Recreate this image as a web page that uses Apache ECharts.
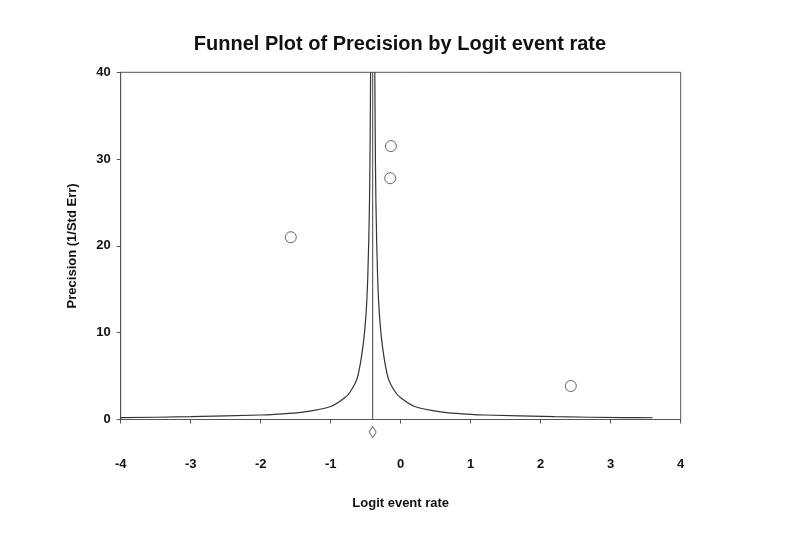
<!DOCTYPE html>
<html>
<head>
<meta charset="utf-8">
<script src="https://cdn.jsdelivr.net/npm/echarts@6/dist/echarts.min.js"></script>
<style>html,body{margin:0;padding:0;background:#fff}#c{width:800px;height:536px}</style>
</head>
<body>
<div id="c"></div>
<script>
// Study points: logit event rate and precision (1/SE)
var studyX = [-1.57, -0.14, -0.15, 2.43];
var studyPrecision = [21.0, 31.5, 27.8, 3.86];
// Combined (mean) effect
var meanEffect = -0.40;
var diamondY = -1.45;
// Funnel limits: distance from mean vs precision
var funnelOffset = [0.030, 0.036, 0.046, 0.070, 0.095, 0.14, 0.22, 0.32, 0.40, 0.60, 1.00, 1.40, 1.60, 2.60, 3.60, 4.00];
var funnelPrecision = [40, 33, 25, 16.5, 12.2, 8.4, 4.8, 3.2, 2.5, 1.5, 0.85, 0.6, 0.52, 0.32, 0.22, 0.2];
var xTicks = [-4, -3, -2, -1, 0, 1, 2, 3, 4];
var yTicks = [0, 10, 20, 30, 40];

var leftCurve = funnelOffset.map(function (o, i) { return [meanEffect - o, funnelPrecision[i]]; });
var rightCurve = funnelOffset.map(function (o, i) { return [meanEffect + o, funnelPrecision[i]]; });

var chart = echarts.init(document.getElementById('c'));
var font = 'Liberation Sans, Arial, sans-serif';
chart.setOption({
  animation: false,
  backgroundColor: '#fff',
  title: {
    text: 'Funnel Plot of Precision by Logit event rate',
    left: 'center', top: 29,
    textStyle: { fontFamily: font, fontSize: 20, fontWeight: 'bold', color: '#111' }
  },
  grid: { left: 120.7, right: 119.3, top: 72.3, bottom: 116.5, show: true, borderColor: '#555', borderWidth: 1, backgroundColor: 'transparent' },
  xAxis: {
    type: 'value', min: xTicks[0], max: xTicks[xTicks.length - 1], interval: 1,
    name: 'Logit event rate', nameLocation: 'middle', nameGap: 77,
    nameTextStyle: { fontFamily: font, fontSize: 13, fontWeight: 'bold', color: '#111' },
    axisLine: { show: true, onZero: false, lineStyle: { color: '#555' } },
    axisTick: { show: true, length: 4, lineStyle: { color: '#555' } },
    axisLabel: { margin: 38, fontFamily: font, fontSize: 13, fontWeight: 'bold', color: '#111' },
    splitLine: { show: false }
  },
  yAxis: {
    type: 'value', min: yTicks[0], max: yTicks[yTicks.length - 1], interval: 10,
    name: 'Precision (1/Std Err)', nameLocation: 'middle', nameGap: 42,
    nameTextStyle: { fontFamily: font, fontSize: 13, fontWeight: 'bold', color: '#111' },
    axisLine: { show: true, onZero: false, lineStyle: { color: '#555' } },
    axisTick: { show: true, length: 4, lineStyle: { color: '#555' } },
    axisLabel: { margin: 10, fontFamily: font, fontSize: 13, fontWeight: 'bold', color: '#111' },
    splitLine: { show: false }
  },
  series: [
    { type: 'line', data: leftCurve, showSymbol: false, smooth: 0.35, clip: true,
      lineStyle: { color: '#333', width: 1.2 }, silent: true },
    { type: 'line', data: rightCurve, showSymbol: false, smooth: 0.35, clip: true,
      lineStyle: { color: '#333', width: 1.2 }, silent: true },
    { type: 'line', data: [[meanEffect, yTicks[0]], [meanEffect, yTicks[yTicks.length - 1]]], showSymbol: false,
      lineStyle: { color: '#444', width: 1 }, silent: true },
    { type: 'scatter', data: studyX.map(function (x, i) { return [x, studyPrecision[i]]; }),
      symbol: 'circle', symbolSize: 11,
      itemStyle: { color: '#fff', borderColor: '#444', borderWidth: 1 } },
    { type: 'scatter', data: [[meanEffect, diamondY]], clip: false,
      symbol: 'diamond', symbolSize: [7, 11],
      itemStyle: { color: '#fff', borderColor: '#444', borderWidth: 1 } }
  ]
});
</script>
</body>
</html>
